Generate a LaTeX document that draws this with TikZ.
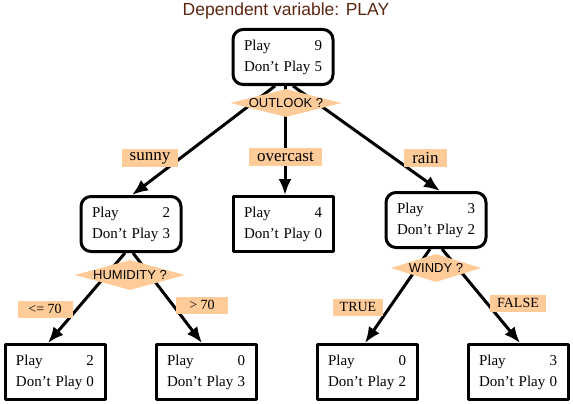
\documentclass[tikz,border=0pt]{standalone}
\usepackage{fontspec}
\setmainfont{Liberation Serif}
\newfontfamily\diagsans{Liberation Sans}
\usetikzlibrary{shapes.geometric,arrows.meta}

\definecolor{peach}{RGB}{255,204,153}
\definecolor{titlebrown}{RGB}{92,38,16}

\tikzset{
  countbox/.style={draw, line width=3pt, fill=white, text width=78pt, inner xsep=11pt,
    minimum height=55pt, font=\fontsize{15}{21}\selectfont},
  splitbox/.style={countbox, rounded corners=10pt},
  question/.style={diamond, aspect=4, fill=peach, inner sep=0pt, minimum height=28pt,
    font=\diagsans\fontsize{13}{13}\selectfont},
  branch/.style={fill=peach, inner xsep=8pt, inner ysep=0pt, minimum height=18pt,
    font=\fontsize{17}{17}\selectfont},
  smallbranch/.style={fill=peach, inner xsep=7pt, inner ysep=0pt, minimum height=17pt,
    font=\fontsize{14}{14}\selectfont},
  edge/.style={line width=3pt, -{Latex[length=16pt,width=13pt]}}
}

\begin{document}
\begin{tikzpicture}[x=1pt, y=-1pt, line join=round]

                \useasboundingbox (0,0) rectangle (573,404);

                \node[text=titlebrown, font=\diagsans\fontsize{17.5}{17.5}\selectfont] (title) at (286,11) {Dependent variable: PLAY};

                % counting boxes
                \node[splitbox] (root) at (283,57) {Play\hfill 9\\Don't Play\hfill 5};
                \node[splitbox] (humid) at (131,224) {Play\hfill 2\\Don't Play\hfill 3};
                \node[countbox] (mid) at (283,224) {Play\hfill 4\\Don't Play\hfill 0};
                \node[splitbox] (windy) at (436,220) {Play\hfill 3\\Don't Play\hfill 2};

                \node[countbox] (leafa) at (55,372) {Play\hfill 2\\Don't Play\hfill 0};
                \node[countbox] (leafb) at (206,372) {Play\hfill 0\\Don't Play\hfill 3};
                \node[countbox] (leafc) at (367,372) {Play\hfill 0\\Don't Play\hfill 2};
                \node[countbox] (leafd) at (518,372) {Play\hfill 3\\Don't Play\hfill 0};

                % edges
                \draw[edge] ([xshift=-8pt]root.south) -- ([xshift=1pt]humid.north);
                \draw[edge] ([xshift=2pt]root.south) -- ([xshift=2pt]mid.north);
                \draw[edge] ([xshift=10pt]root.south) -- ([xshift=4pt]windy.north);

                \draw[edge] ([xshift=-6pt]humid.south) -- ([xshift=-7pt]leafa.north);
                \draw[edge] ([xshift=2pt]humid.south) -- ([xshift=-4pt]leafb.north);
                \draw[edge] ([xshift=-6pt]windy.south) -- ([xshift=-2pt]leafc.north);
                \draw[edge] ([xshift=6pt]windy.south) -- ([xshift=2pt]leafd.north);

                % questions
                \node[question] (qoutlook) at (286,103) {OUTLOOK ?};
                \node[question, minimum height=30pt] (qhumid) at (130,275) {HUMIDITY ?};
                \node[question] (qwindy) at (436,268) {WINDY ?};

                % branch labels
                \node[branch] (sunny) at (150,158) {sunny};
                \node[branch] (overcast) at (285.5,157) {overcast};
                \node[branch] (rain) at (425.5,157.5) {rain};

                \node[smallbranch, minimum width=55pt] (low) at (45,309) {<= 70};
                \node[smallbranch, minimum width=52pt] (high) at (202,305) {> 70};
                \node[smallbranch] (true) at (358,307) {TRUE};
                \node[smallbranch] (false) at (518,303) {FALSE};

\end{tikzpicture}
\end{document}
